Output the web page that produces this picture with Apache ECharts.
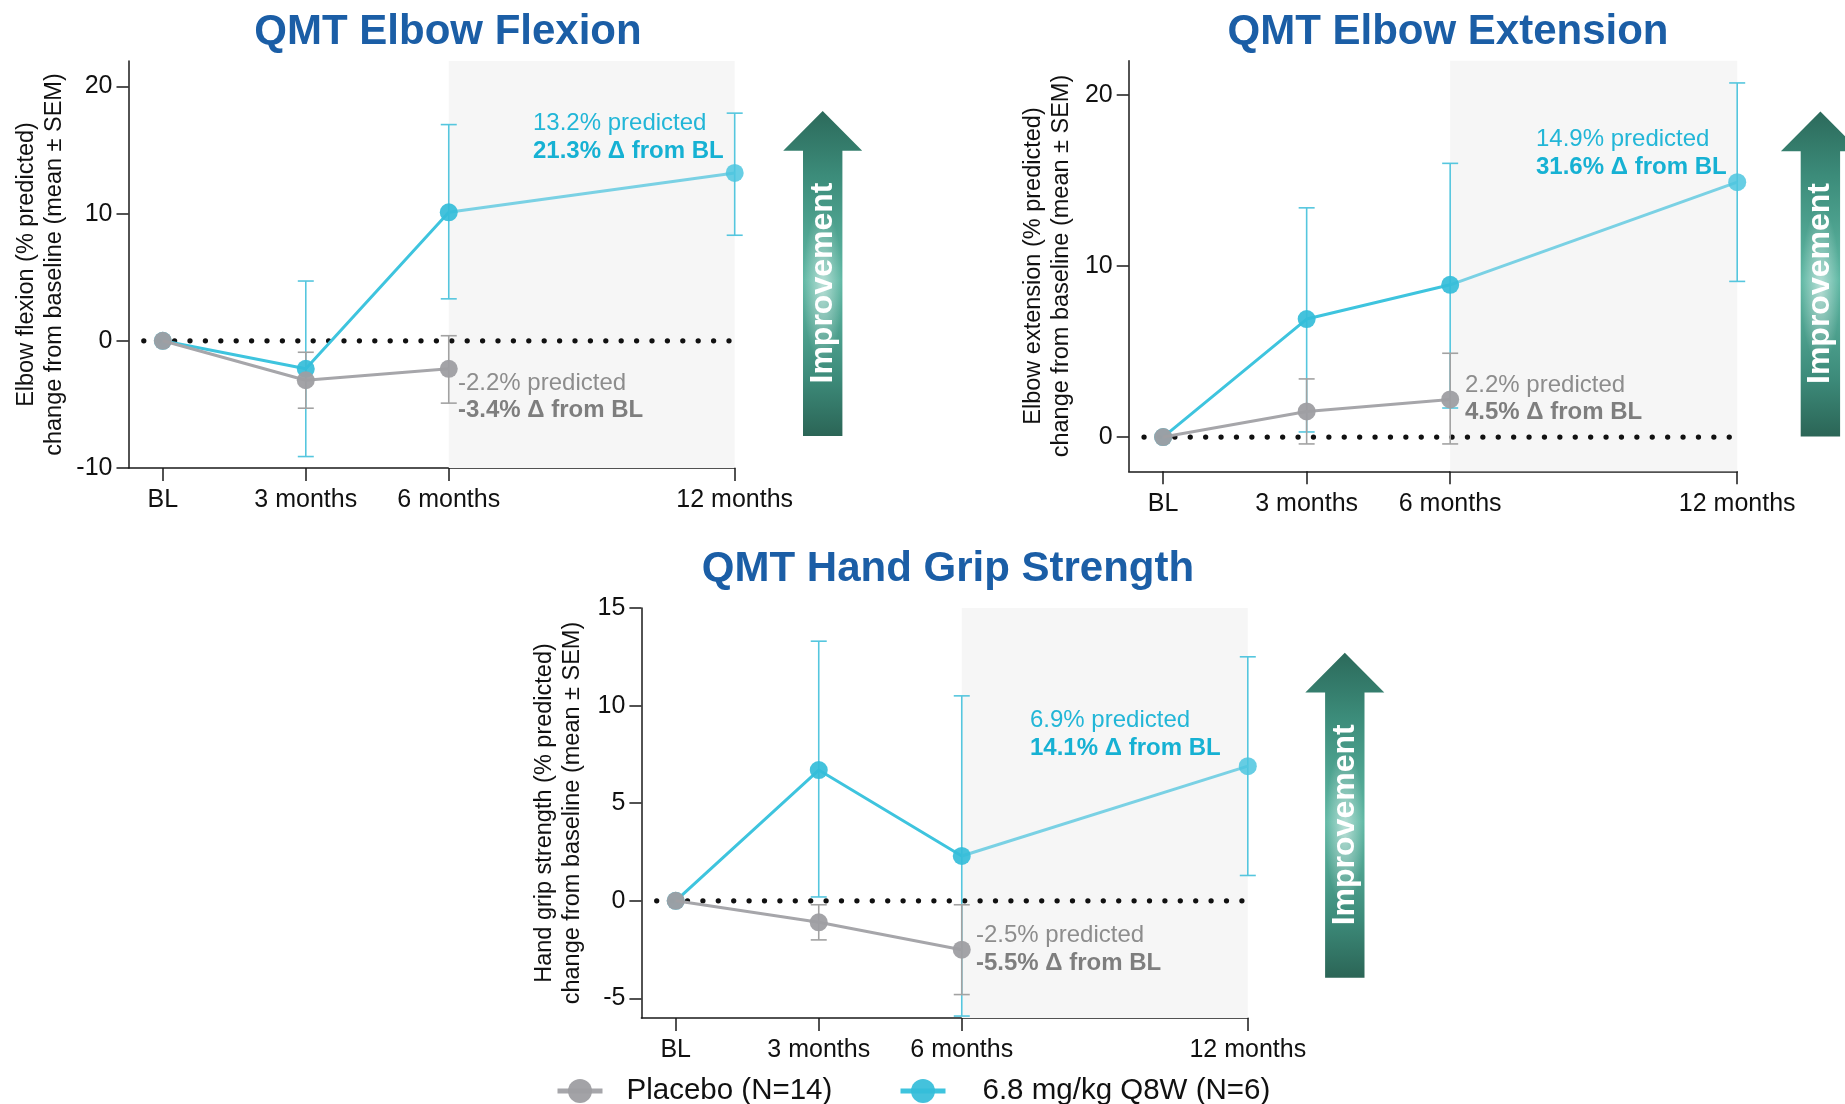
<!DOCTYPE html>
<html><head><meta charset="utf-8">
<script src="https://cdn.jsdelivr.net/npm/echarts@6/dist/echarts.min.js"></script>
<style>html,body{margin:0;padding:0;background:#fff}#c{width:1845px;height:1104px}</style>
</head><body><div id="c"></div>
<script>
// ---------- data ----------
const months = [0, 3, 6, 12];
const xLabels = ['BL', '3 months', '6 months', '12 months'];
const placeboName = 'Placebo (N=14)';
const doseName = '6.8 mg/kg Q8W (N=6)';
const shadeMonths = [6, 12];
const zeroLineX = [-0.4, 11.9];

// QMT Elbow Flexion
const flexPlacebo = [0, -3.1, -2.2];
const flexPlaceboLow = [null, -5.3, -4.9];
const flexPlaceboHigh = [null, -0.9, 0.4];
const flexDose = [0, -2.2, 10.1, 13.2];
const flexDoseLow = [null, -9.1, 3.3, 8.3];
const flexDoseHigh = [null, 4.7, 17.0, 17.9];
const flexTicks = [-10, 0, 10, 20];

// QMT Elbow Extension
const extPlacebo = [0, 1.5, 2.2];
const extPlaceboLow = [null, -0.4, -0.4];
const extPlaceboHigh = [null, 3.4, 4.9];
const extDose = [0, 6.9, 8.9, 14.9];
const extDoseLow = [null, 0.3, 1.7, 9.1];
const extDoseHigh = [null, 13.4, 16.0, 20.7];
const extTicks = [0, 10, 20];

// QMT Hand Grip Strength
const gripPlacebo = [0, -1.1, -2.5];
const gripPlaceboLow = [null, -2.0, -4.8];
const gripPlaceboHigh = [null, -0.2, -0.2];
const gripDose = [0, 6.7, 2.3, 6.9];
const gripDoseLow = [null, 0.2, -5.9, 1.3];
const gripDoseHigh = [null, 13.3, 10.5, 12.5];
const gripTicks = [-5, 0, 5, 10, 15];

const titles = ['QMT Elbow Flexion', 'QMT Elbow Extension', 'QMT Hand Grip Strength'];
const yNames = [
  'Elbow flexion (% predicted)\nchange from baseline (mean \u00b1 SEM)',
  'Elbow extension (% predicted)\nchange from baseline (mean \u00b1 SEM)',
  'Hand grip strength (% predicted)\nchange from baseline (mean \u00b1 SEM)'
];
const doseNotes = [['13.2% predicted', '21.3% \u0394 from BL'], ['14.9% predicted', '31.6% \u0394 from BL'], ['6.9% predicted', '14.1% \u0394 from BL']];
const placeboNotes = [['-2.2% predicted', '-3.4% \u0394 from BL'], ['2.2% predicted', '4.5% \u0394 from BL'], ['-2.5% predicted', '-5.5% \u0394 from BL']];
const arrowText = 'Improvement';

// ---------- layout ----------
const FONT = '"Liberation Sans", Arial, Helvetica, sans-serif';
const BLUE = '#34bdd9', BLUE_LINE = '#3ec4de', BLUE_LIGHT = '#7ad1e4', BLUE_ERR = '#55c6de';
const GRAY = '#9e9ea2', GRAY_LINE = '#a6a6aa', GRAY_ERR = '#a2a2a2';
const AXIS = '#1a1a1a';

const panels = [
  {grid: {left: 128.5, top: 61, width: 606.2, height: 407}, yMin: -10, yMax: 22, ticks: flexTicks, nameGap: 60,
   placebo: flexPlacebo, pLo: flexPlaceboLow, pHi: flexPlaceboHigh, dose: flexDose, dLo: flexDoseLow, dHi: flexDoseHigh,
   title: [448, 32], doseNote: [533, 123, 151], placeboNote: [458, 383, 410], arrow: [822.7, 111]},
  {grid: {left: 1128.7, top: 60.7, width: 608.5, height: 410.6}, yMin: -2, yMax: 22, ticks: extTicks, nameGap: 53,
   placebo: extPlacebo, pLo: extPlaceboLow, pHi: extPlaceboHigh, dose: extDose, dLo: extDoseLow, dHi: extDoseHigh,
   title: [1448, 32], doseNote: [1536, 139, 167], placeboNote: [1465, 385, 412], arrow: [1820.4, 111.5]},
  {grid: {left: 641.4, top: 608, width: 606.4, height: 410}, yMin: -6, yMax: 15, ticks: gripTicks, nameGap: 55,
   placebo: gripPlacebo, pLo: gripPlaceboLow, pHi: gripPlaceboHigh, dose: gripDose, dLo: gripDoseLow, dHi: gripDoseHigh,
   title: [948, 569], doseNote: [1030, 720, 748], placeboNote: [976, 935, 963], arrow: [1344.8, 652.8]}
];

function errData(lo, hi) {
  const out = [];
  lo.forEach((l, i) => { if (l != null) out.push([months[i], l, hi[i]]); });
  return out;
}
function errSeries(i, lo, hi, color) {
  return {
    type: 'custom', xAxisIndex: i, yAxisIndex: i, z: 3, silent: true,
    encode: {x: 0, y: [1, 2]},
    data: errData(lo, hi),
    renderItem: function (params, api) {
      const x = api.value(0);
      const top = api.coord([x, api.value(2)]);
      const bot = api.coord([x, api.value(1)]);
      const w = 8;
      const st = {stroke: color, lineWidth: 1.6, fill: null};
      return {type: 'group', children: [
        {type: 'line', shape: {x1: top[0], y1: top[1], x2: bot[0], y2: bot[1]}, style: st},
        {type: 'line', shape: {x1: top[0] - w, y1: top[1], x2: top[0] + w, y2: top[1]}, style: st},
        {type: 'line', shape: {x1: bot[0] - w, y1: bot[1], x2: bot[0] + w, y2: bot[1]}, style: st}
      ]};
    }
  };
}

const grids = [], xAxes = [], yAxes = [], series = [], graphics = [];
panels.forEach((p, i) => {
  grids.push(Object.assign({containLabel: false, outerBoundsMode: 'none'}, p.grid));
  xAxes.push({
    gridIndex: i, type: 'value', min: -0.72, max: 12,
    axisLine: {show: true, onZero: false, lineStyle: {color: AXIS, width: 1.5}},
    axisTick: {show: true, length: 13, customValues: months, lineStyle: {color: AXIS, width: 1.5}},
    axisLabel: {customValues: months, formatter: v => xLabels[months.indexOf(v)], fontSize: 25, color: '#111', margin: 20, fontFamily: FONT},
    splitLine: {show: false}
  });
  yAxes.push({
    gridIndex: i, type: 'value', min: p.yMin, max: p.yMax,
    axisLine: {show: true, onZero: false, lineStyle: {color: AXIS, width: 1.5}},
    axisTick: {show: true, length: 12, customValues: p.ticks, lineStyle: {color: AXIS, width: 1.5}},
    axisLabel: {customValues: p.ticks, fontSize: 25, color: '#111', margin: 16, fontFamily: FONT},
    splitLine: {show: false},
    name: yNames[i], nameLocation: 'middle', nameGap: p.nameGap,
    nameTextStyle: {fontSize: 23.5, lineHeight: 28, color: '#111', fontFamily: FONT}
  });
  // zero reference (dotted) + shaded 6-12 month region
  series.push({
    type: 'line', xAxisIndex: i, yAxisIndex: i, z: 2, silent: true, symbol: 'none',
    data: zeroLineX.map(x => [x, 0]),
    lineStyle: {color: '#111', width: 5.2, type: [0.1, 15.3], cap: 'round'},
    markArea: {silent: true, itemStyle: {color: '#f6f6f6'}, data: [[{xAxis: shadeMonths[0]}, {xAxis: shadeMonths[1]}]]}
  });
  series.push(errSeries(i, p.dLo, p.dHi, BLUE_ERR));
  series.push(errSeries(i, p.pLo, p.pHi, GRAY_ERR));
  // dose: BL..6 months
  series.push({
    name: doseName, type: 'line', xAxisIndex: i, yAxisIndex: i, z: 4,
    data: p.dose.slice(0, 3).map((v, k) => [months[k], v]),
    symbol: 'circle', symbolSize: 18,
    lineStyle: {color: BLUE_LINE, width: 3},
    itemStyle: {color: BLUE, opacity: 0.92},
    emphasis: {disabled: true}
  });
  // dose: 6..12 months (lighter segment)
  series.push({
    name: doseName + ' ', type: 'line', xAxisIndex: i, yAxisIndex: i, z: 4,
    data: [{value: [months[2], p.dose[2]], symbol: 'none'}, [months[3], p.dose[3]]],
    symbol: 'circle', symbolSize: 18,
    lineStyle: {color: BLUE_LIGHT, width: 3},
    itemStyle: {color: '#4cc6df', opacity: 0.85},
    emphasis: {disabled: true}
  });
  series.push({
    name: placeboName, type: 'line', xAxisIndex: i, yAxisIndex: i, z: 5,
    data: p.placebo.map((v, k) => [months[k], v]),
    symbol: 'circle', symbolSize: 18,
    lineStyle: {color: GRAY_LINE, width: 3},
    itemStyle: {color: GRAY, opacity: 0.95},
    emphasis: {disabled: true}
  });

  // title
  graphics.push({type: 'text', z: 100, x: p.title[0], y: p.title[1], style: {text: titles[i], font: 'bold 42px ' + FONT, fill: '#1b5ea6', align: 'center', verticalAlign: 'middle'}});
  // notes
  graphics.push({type: 'text', z: 100, x: p.doseNote[0], y: p.doseNote[1], style: {text: doseNotes[i][0], font: '24px ' + FONT, fill: '#22b6d7', align: 'left', verticalAlign: 'middle'}});
  graphics.push({type: 'text', z: 100, x: p.doseNote[0], y: p.doseNote[2], style: {text: doseNotes[i][1], font: 'bold 24px ' + FONT, fill: '#16b1d3', align: 'left', verticalAlign: 'middle'}});
  graphics.push({type: 'text', z: 100, x: p.placeboNote[0], y: p.placeboNote[1], style: {text: placeboNotes[i][0], font: '24px ' + FONT, fill: '#8d8d8d', align: 'left', verticalAlign: 'middle'}});
  graphics.push({type: 'text', z: 100, x: p.placeboNote[0], y: p.placeboNote[2], style: {text: placeboNotes[i][1], font: 'bold 24px ' + FONT, fill: '#7e7e7e', align: 'left', verticalAlign: 'middle'}});
  // improvement arrow
  graphics.push({
    type: 'group', z: 100, x: p.arrow[0], y: p.arrow[1], silent: true, children: [
      {type: 'polygon', z: 100, shape: {points: [[0, 0], [39.5, 39.7], [19.7, 39.7], [19.7, 325], [-19.7, 325], [-19.7, 39.7], [-39.5, 39.7]]},
       style: {fill: {type: 'linear', x: 0, y: 0, x2: 0, y2: 1, colorStops: [
         {offset: 0, color: '#2c6a5b'}, {offset: 0.2, color: '#3c8c7a'}, {offset: 0.52, color: '#5fb8a4'},
         {offset: 0.82, color: '#3d8b7a'}, {offset: 1, color: '#2b6556'}]}}},
      {type: 'circle', z: 101, x: 0, y: 175, scaleY: 4, shape: {cx: 0, cy: 0, r: 19.7},
       style: {fill: {type: 'radial', x: 0.5, y: 0.5, r: 0.5, colorStops: [
         {offset: 0, color: 'rgba(255,255,255,0.55)'}, {offset: 1, color: 'rgba(255,255,255,0)'}]}}},
      {type: 'text', z: 102, x: 0, y: 172, rotation: Math.PI / 2, style: {text: arrowText, font: 'bold 32px ' + FONT, fill: '#ffffff', align: 'center', verticalAlign: 'middle'}}
    ]
  });
});

const legendBase = {
  orient: 'horizontal', top: 1071, itemWidth: 45, itemHeight: 30, selectedMode: false,
  lineStyle: {width: 5}
};
const chart = echarts.init(document.getElementById('c'), null, {renderer: 'canvas'});
chart.setOption({
  animation: false,
  backgroundColor: '#ffffff',
  textStyle: {fontFamily: FONT},
  grid: grids, xAxis: xAxes, yAxis: yAxes, series: series,
  legend: [
    Object.assign({}, legendBase, {data: [placeboName], left: 550, textStyle: {fontSize: 29.5, color: '#111', fontFamily: FONT, padding: [0, 0, 0, 19]}}),
    Object.assign({}, legendBase, {data: [doseName], left: 893, textStyle: {fontSize: 29.5, color: '#111', fontFamily: FONT, padding: [0, 0, 0, 32]}})
  ],
  graphic: graphics
});
</script></body></html>
